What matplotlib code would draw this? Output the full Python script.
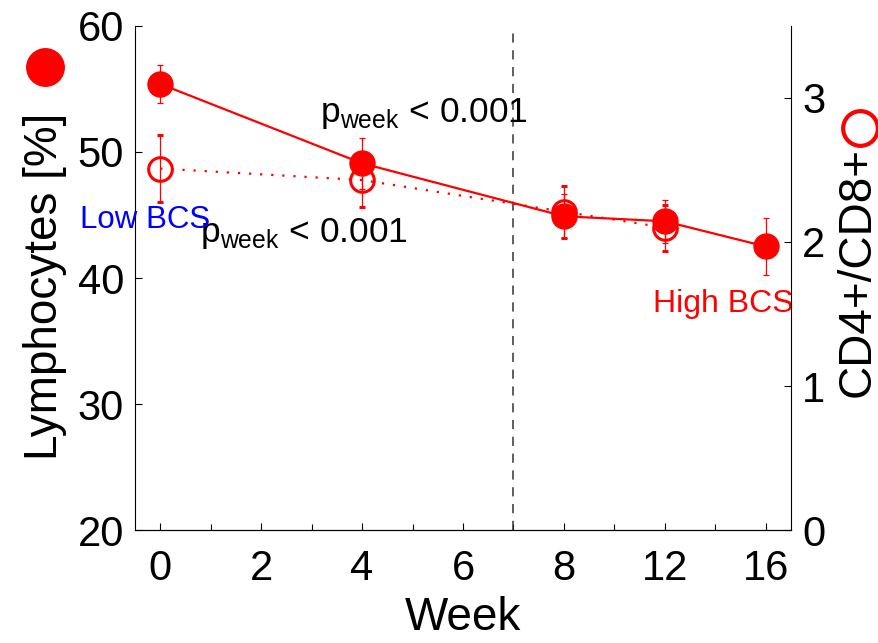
import numpy as np
import matplotlib.pyplot as plt
from matplotlib.lines import Line2D

plt.rcParams['font.family'] = ['Liberation Sans', 'DejaVu Sans']
plt.rcParams['mathtext.fontset'] = 'custom'
plt.rcParams['mathtext.rm'] = 'Liberation Sans'

# x axis is compressed after week 8: plot positions vs. labels
tick_pos = [0, 2, 4, 6, 8, 10, 12]
tick_lbl = ['0', '2', '4', '6', '8', '12', '16']

# lymphocytes (left axis, filled)
lym_pos = [0, 4, 8, 10, 12]
lym = [55.4, 49.1, 44.9, 44.5, 42.5]
lym_err = [1.5, 2.0, 1.75, 1.7, 2.3]

# CD4+/CD8+ ratio (right axis, open)
cd_pos = [0, 4, 8, 10]
cd = [2.51, 2.43, 2.21, 2.10]
cd_err = [0.235, 0.19, 0.18, 0.16]

red = '#ff0000'

fig = plt.figure(figsize=(8.79, 6.43), dpi=100)
ax = fig.add_axes([0.1536, 0.1757, 0.7463, 0.7839])
ax2 = ax.twinx()

ax.errorbar(lym_pos, lym, yerr=lym_err, color=red, lw=1.6, marker='o', ms=18,
            mfc=red, mec=red, elinewidth=0.9, capsize=2.5, capthick=0.9, zorder=3)
ax2.errorbar(cd_pos, cd, yerr=cd_err, color=red, lw=1.6, ls=(0, (1, 4)),
             marker='o', ms=17, mfc='none', mec=red, mew=2.2,
             elinewidth=0.9, capsize=2.5, capthick=0.9)

ax.axvline(7, color='#333333', lw=1.1, ls=(0, (6, 5)))

ax.set_xlim(-0.5, 12.5)
ax.set_ylim(20, 60)
ax2.set_ylim(0, 3.5)
ax.set_xticks(tick_pos)
ax.set_xticklabels(tick_lbl)
ax.set_xticks(np.arange(0, 13), minor=True)
ax.set_yticks([20, 30, 40, 50, 60])
ax2.set_yticks([0, 1, 2, 3])

for a in (ax, ax2):
    a.spines['top'].set_visible(False)
    a.tick_params(direction='in', labelsize=30, length=5, width=0.8, pad=8)
    a.tick_params(which='minor', direction='in', length=4, width=0.8)
ax.tick_params(axis='x', pad=14)
ax.spines['right'].set_visible(False)
ax2.spines['left'].set_visible(False)

ax.set_xlabel('Week', fontsize=33, labelpad=5)
fig.text(0.051, 0.554, 'Lymphocytes [%]', fontsize=33, rotation=90,
         ha='center', va='center')
fig.text(0.976, 0.577, 'CD4+/CD8+', fontsize=33, rotation=90,
         ha='center', va='center')
fig.add_artist(Line2D([0.051], [0.896], marker='o', ms=27, color=red,
                      transform=fig.transFigure))
fig.add_artist(Line2D([0.978], [0.801], marker='o', ms=25, mfc='none',
                      mec=red, mew=3, transform=fig.transFigure))

ax.text(3.17, 52.4, r'p$_{\mathrm{week}}$ < 0.001', fontsize=25.5, va='baseline')
ax.text(0.79, 42.86, r'p$_{\mathrm{week}}$ < 0.001', fontsize=25.5, va='baseline')
ax.text(-1.59, 44.0, 'Low BCS', fontsize=22.5, color='#0000ff', va='baseline',
        clip_on=False)
ax.text(9.77, 37.3, 'High BCS', fontsize=23, color=red, va='baseline',
        clip_on=False)

fig.savefig('out.png', dpi=100)
